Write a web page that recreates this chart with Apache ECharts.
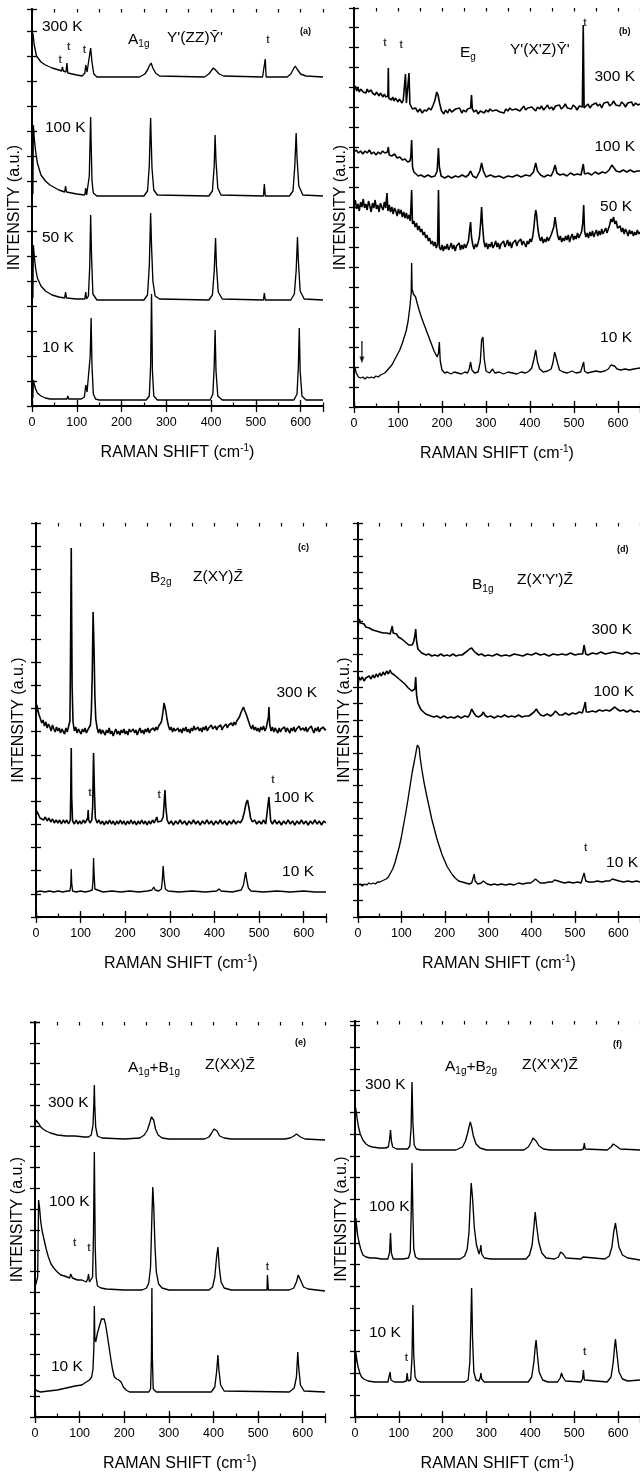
<!DOCTYPE html>
<html><head><meta charset="utf-8">
<script src="https://cdn.jsdelivr.net/npm/echarts/dist/echarts.min.js"></script>
<style>html,body{margin:0;padding:0;background:#fff}#c{width:640px;height:1476px}</style>
</head><body><div id="c"></div><script>
// ---------- DATA (Raman shift cm-1, intensity a.u. with stacking offset) ----------
const xTicks = [0,100,200,300,400,500,600];
const tempLabels = ['300 K','100 K','50 K','10 K'];

const a300=[[2,373],[5,361],[10,350],[20,344],[30,341],[45,338],[60,336],[66,335],[68,339],[70,335],[76,334],[78,343],[80,333],[100,331],[112,330],[118,333],[120,341],[123,334],[127,346],[131,358],[134,344],[138,332],[145,329],[240,329],[252,332],[258,336],[262,340],[266,343],[270,338],[276,333],[285,330],[385,329],[395,332],[400,335],[405,338],[410,336],[418,332],[428,330],[515,329],[519,329],[521,347],[523,329],[570,329],[578,332],[584,337],[588,340],[592,337],[600,332],[612,330],[650,329]];
const a100=[[2,212],[3,281],[5,268],[8,255],[12,243],[20,231],[30,225],[40,221],[60,216],[73,214],[75,220],[77,214],[100,212],[118,211],[120,218],[122,211],[125,213],[128,230],[130,270],[131,289],[132,265],[134,225],[137,213],[145,210],[250,210],[258,215],[262,240],[264,275],[265,288],[266,270],[268,238],[272,216],[280,211],[395,210],[403,215],[407,240],[409,271],[411,245],[415,218],[422,211],[517,210],[519,222],[521,210],[575,210],[583,215],[587,240],[590,273],[592,248],[596,220],[605,211],[650,210]];
const a50=[[2,108],[3,161],[5,150],[8,138],[12,128],[20,120],[30,115],[45,111],[60,109],[73,108],[75,114],[77,108],[100,107],[118,107],[120,114],[122,107],[126,110],[129,140],[131,191],[133,150],[136,112],[145,106],[250,106],[258,111],[262,140],[265,193],[267,160],[270,125],[275,110],[285,107],[395,106],[403,111],[407,135],[410,168],[412,140],[416,114],[425,107],[517,106],[519,113],[521,106],[578,106],[586,112],[590,135],[593,169],[595,145],[599,115],[608,107],[650,106]];
const a10=[[2,8],[3,26],[5,22],[8,17],[12,13],[20,10],[30,8],[40,7],[78,7],[80,10],[82,7],[110,7],[117,9],[120,21],[123,14],[127,16],[130,50],[132,88],[134,40],[137,12],[142,7],[150,6],[255,6],[262,10],[265,40],[267,112],[269,35],[272,10],[280,6],[398,6],[404,12],[407,40],[409,76],[411,35],[415,10],[425,6],[585,6],[592,12],[595,40],[597,78],[599,35],[603,10],[612,6],[650,6]];

const b300=[[0,318],[3,321],[6,316],[9,319],[12,315],[15,318],[18,320],[21,315],[24,317],[27,314],[30,318],[33,315],[36,313],[39,317],[42,314],[45,316],[48,312],[51,315],[54,313],[57,311],[60,314],[63,312],[66,310],[69,313],[72,310],[75,312],[77,311],[78,339],[79,309],[82,311],[85,307],[88,310],[91,306],[94,309],[97,307],[100,305],[103,308],[106,306],[109,304],[112,307],[115,305],[117,333],[119,304],[121,306],[123,303],[125,334],[127,303],[130,301],[133,298],[136,300],[140,299],[145,295],[150,298],[155,294],[160,297],[165,296],[170,299],[175,297],[180,302],[184,307],[188,315],[191,312],[195,303],[199,296],[204,293],[208,297],[213,294],[217,298],[222,295],[226,294],[231,298],[235,296],[240,299],[245,294],[249,297],[254,295],[258,298],[262,296],[265,299],[267,312],[269,298],[273,295],[278,297],[282,293],[287,296],[291,298],[296,294],[300,297],[305,295],[309,298],[314,296],[318,294],[323,297],[327,299],[332,295],[336,297],[341,294],[345,298],[350,296],[354,299],[359,297],[363,295],[368,298],[372,300],[377,296],[381,298],[386,301],[390,297],[395,299],[399,297],[404,300],[408,298],[413,296],[417,300],[422,298],[426,301],[431,297],[435,299],[440,302],[444,298],[449,300],[453,297],[458,301],[462,299],[467,302],[471,298],[476,300],[480,303],[485,299],[489,301],[494,298],[498,302],[503,300],[507,297],[512,301],[516,299],[519,300],[521,382],[523,299],[527,301],[532,303],[536,299],[541,302],[545,300],[550,304],[554,301],[559,303],[563,299],[568,304],[572,302],[577,305],[581,301],[586,303],[590,306],[595,302],[599,304],[604,301],[608,305],[613,303],[617,300],[622,304],[626,302],[631,305],[635,301],[640,304],[645,302],[650,303]];
const b100=[[0,255],[5,257],[10,254],[15,256],[20,253],[25,256],[30,254],[35,257],[40,253],[45,255],[50,252],[55,255],[60,253],[65,256],[70,254],[76,255],[78,260],[80,252],[86,251],[92,253],[98,249],[104,250],[110,247],[116,248],[122,245],[127,246],[129,250],[131,267],[133,240],[136,235],[140,233],[146,231],[152,232],[160,230],[168,232],[176,230],[184,231],[189,236],[192,259],[194,240],[198,231],[206,229],[214,231],[222,229],[230,231],[238,230],[246,232],[254,230],[260,232],[265,236],[270,231],[278,229],[286,236],[290,244],[294,236],[300,230],[310,232],[320,230],[330,231],[340,229],[350,231],[360,230],[370,232],[380,230],[390,232],[400,231],[408,235],[413,244],[417,236],[424,232],[432,230],[440,232],[448,231],[453,236],[457,242],[461,234],[468,232],[476,233],[484,231],[492,234],[500,232],[508,233],[516,232],[521,243],[524,233],[532,234],[540,232],[548,235],[556,233],[564,235],[572,234],[580,237],[586,242],[590,240],[596,236],[604,235],[612,237],[620,235],[628,237],[636,235],[644,236],[650,236]];
const b50=[[0,201],[3,207],[6,198],[9,203],[12,196],[15,205],[18,200],[21,208],[24,199],[27,203],[30,197],[33,206],[36,201],[39,195],[42,204],[45,199],[48,207],[51,198],[54,202],[57,195],[60,204],[63,200],[66,197],[69,205],[72,199],[75,214],[77,196],[80,202],[83,195],[86,200],[89,193],[92,199],[95,196],[98,191],[101,198],[104,193],[107,197],[110,190],[113,195],[116,189],[119,194],[122,188],[125,192],[128,186],[131,217],[133,183],[136,186],[139,180],[142,184],[145,177],[148,181],[151,175],[154,178],[157,172],[160,175],[163,169],[166,172],[169,166],[172,169],[175,163],[178,166],[181,161],[184,165],[187,159],[190,163],[192,217],[194,160],[197,157],[200,162],[203,156],[206,161],[209,158],[212,163],[215,157],[218,160],[221,164],[224,158],[227,162],[230,156],[233,161],[236,159],[239,164],[242,157],[245,162],[248,158],[251,163],[254,159],[257,161],[260,166],[263,178],[265,185],[267,170],[270,162],[273,158],[276,163],[279,160],[282,164],[285,170],[288,185],[290,200],[292,183],[295,166],[298,160],[301,164],[304,158],[307,163],[310,160],[313,165],[316,159],[319,162],[322,166],[325,160],[328,164],[331,158],[334,163],[337,161],[340,166],[343,160],[346,163],[349,167],[352,161],[355,165],[358,159],[361,164],[364,162],[367,167],[370,161],[373,165],[376,163],[379,168],[382,162],[385,166],[388,164],[391,160],[394,166],[397,163],[400,168],[403,165],[406,170],[409,180],[411,190],[413,197],[415,192],[418,178],[421,170],[424,166],[427,170],[430,164],[433,168],[436,165],[439,170],[442,166],[445,169],[448,172],[451,171],[454,180],[457,190],[460,180],[463,171],[466,167],[469,171],[472,165],[475,169],[478,166],[481,171],[484,167],[487,172],[490,165],[493,170],[496,173],[499,167],[502,171],[505,168],[508,174],[511,169],[514,172],[517,175],[520,184],[522,202],[524,176],[527,170],[530,174],[533,169],[536,175],[539,171],[542,176],[545,170],[548,174],[551,177],[554,171],[557,176],[560,172],[563,178],[566,173],[569,176],[572,179],[575,174],[578,178],[581,182],[584,188],[587,185],[590,190],[593,183],[596,186],[599,179],[602,177],[605,181],[608,175],[611,179],[614,173],[617,178],[620,175],[623,171],[626,177],[629,173],[632,176],[635,171],[638,175],[641,172],[644,177],[647,173],[650,175]];
const b10=[[2,40],[5,34],[10,30],[15,29],[20,30],[25,28],[30,30],[35,29],[40,30],[45,29],[50,31],[55,30],[60,32],[65,33],[70,34],[74,35],[80,39],[86,42],[92,47],[98,52],[104,57],[110,64],[115,71],[119,77],[123,86],[127,100],[130,114],[131,144],[132,118],[135,113],[137,114],[140,110],[144,103],[148,97],[153,90],[158,84],[164,77],[170,70],[176,63],[182,56],[189,50],[192,54],[194,65],[196,46],[200,37],[206,34],[212,35],[220,33],[228,35],[236,34],[244,33],[252,35],[258,34],[262,38],[265,45],[268,37],[274,34],[282,35],[287,45],[290,67],[293,70],[296,48],[300,36],[308,34],[315,38],[320,34],[330,35],[340,33],[350,35],[360,34],[370,33],[380,35],[390,34],[398,36],[404,39],[409,48],[413,57],[417,45],[422,38],[430,35],[440,36],[448,38],[452,44],[456,55],[459,57],[462,45],[467,37],[475,35],[485,34],[495,36],[505,34],[515,35],[519,36],[522,45],[524,36],[530,34],[540,35],[550,36],[560,35],[570,36],[578,38],[584,42],[588,44],[592,41],[598,38],[606,37],[616,38],[626,37],[636,38],[650,39]];
const bArrow=[[18,66],[18,47]];

const c300=[[0,200],[2,212],[4,207],[7,202],[10,198],[13,194],[16,197],[19,191],[22,195],[25,189],[28,193],[31,190],[34,186],[37,192],[40,188],[43,185],[46,190],[49,186],[52,189],[55,184],[58,188],[61,186],[64,183],[67,189],[70,185],[73,187],[76,196],[77,240],[79,369],[81,230],[83,195],[86,186],[89,190],[92,184],[95,188],[98,186],[101,183],[104,188],[107,185],[110,189],[113,184],[116,187],[119,186],[122,192],[124,205],[126,240],[128,305],[130,270],[132,220],[134,198],[137,189],[140,184],[143,188],[146,183],[149,187],[152,185],[155,182],[158,187],[161,184],[164,189],[167,183],[170,186],[173,181],[176,185],[179,188],[182,183],[185,186],[188,182],[191,187],[194,184],[197,188],[200,183],[203,186],[206,182],[209,188],[212,185],[215,183],[218,188],[221,184],[224,187],[227,182],[230,186],[233,189],[236,184],[239,187],[242,183],[245,188],[248,185],[251,189],[254,184],[257,187],[260,185],[263,189],[266,186],[269,190],[272,187],[275,191],[278,189],[281,195],[284,203],[287,214],[289,210],[291,206],[294,197],[297,191],[300,187],[303,190],[306,185],[309,189],[312,186],[315,184],[318,189],[321,185],[324,188],[327,184],[330,189],[333,186],[336,190],[339,185],[342,188],[345,184],[348,189],[351,186],[354,191],[357,187],[360,185],[363,190],[366,186],[369,189],[372,185],[375,190],[378,187],[381,191],[384,186],[387,189],[390,187],[393,192],[396,188],[399,186],[402,191],[405,187],[408,190],[411,188],[414,192],[417,187],[420,190],[423,188],[426,193],[429,189],[432,192],[435,190],[438,194],[441,191],[444,195],[447,192],[450,196],[453,194],[456,200],[459,204],[462,207],[465,210],[468,206],[471,203],[474,199],[477,195],[480,191],[483,188],[486,192],[489,187],[492,190],[495,186],[498,189],[501,185],[504,190],[507,187],[510,191],[513,186],[516,189],[519,190],[521,200],[522,210],[524,192],[527,186],[530,190],[533,185],[536,189],[539,187],[542,184],[545,189],[548,185],[551,188],[554,186],[557,190],[560,185],[563,189],[566,187],[569,184],[572,189],[575,186],[578,190],[581,185],[584,188],[587,186],[590,191],[593,187],[596,185],[599,189],[602,186],[605,190],[608,185],[611,188],[614,186],[617,191],[620,187],[623,184],[626,189],[629,186],[632,190],[635,185],[638,188],[641,186],[644,190],[647,187],[650,188]];
const c100=[[0,100],[2,106],[5,103],[9,99],[13,101],[17,97],[21,100],[25,96],[29,99],[33,95],[37,98],[41,94],[45,97],[49,94],[53,97],[57,93],[61,97],[65,94],[69,97],[73,93],[77,97],[78,130],[79,169],[80,120],[82,96],[86,93],[90,97],[94,93],[98,96],[102,93],[106,97],[110,94],[114,96],[116,99],[117,107],[118,97],[121,94],[125,97],[127,110],[129,164],[131,125],[133,99],[137,94],[141,97],[145,93],[149,96],[153,92],[157,96],[161,93],[165,97],[169,93],[173,96],[177,92],[181,96],[185,93],[189,97],[193,93],[197,96],[201,92],[205,96],[209,93],[213,97],[217,93],[221,96],[225,92],[229,96],[233,93],[237,97],[241,93],[245,96],[249,92],[253,96],[257,93],[261,97],[265,94],[269,96],[271,100],[273,95],[277,93],[281,96],[285,100],[287,112],[289,127],[291,110],[294,97],[298,93],[303,96],[308,92],[313,96],[318,93],[323,97],[328,93],[333,96],[338,92],[343,96],[348,93],[353,97],[358,93],[363,96],[368,92],[373,96],[378,93],[383,97],[388,93],[393,96],[398,92],[403,96],[408,93],[413,97],[418,93],[423,96],[428,92],[433,96],[438,93],[443,97],[448,93],[453,96],[458,94],[463,98],[467,105],[471,114],[474,117],[477,110],[481,99],[485,95],[490,97],[495,93],[500,96],[505,93],[510,97],[515,93],[519,95],[522,120],[524,122],[526,96],[530,93],[535,97],[540,93],[545,96],[550,92],[555,96],[560,93],[565,97],[570,93],[575,96],[580,92],[585,96],[590,93],[595,97],[600,93],[605,96],[610,92],[615,96],[620,93],[625,97],[630,93],[635,96],[640,92],[645,96],[650,94]];
const c10=[[0,25],[10,26],[20,25],[30,26],[40,25],[50,26],[60,25],[70,26],[76,26],[78,32],[79,48],[80,34],[82,26],[90,25],[100,26],[110,25],[120,26],[126,27],[128,38],[129,59],[130,45],[132,28],[136,26],[150,25],[170,26],[190,25],[210,26],[230,25],[250,26],[260,27],[264,30],[267,27],[275,26],[281,28],[283,36],[285,51],[287,38],[290,28],[296,26],[320,25],[350,26],[380,25],[405,26],[410,28],[415,26],[440,25],[460,27],[465,32],[468,40],[470,45],[472,38],[476,29],[482,26],[510,25],[540,26],[570,25],[600,26],[625,25],[650,25]];

const d300=[[0,290],[3,298],[6,294],[10,292],[14,293],[18,290],[22,291],[26,289],[30,290],[34,287],[38,289],[42,286],[46,288],[50,285],[54,287],[58,284],[62,286],[66,284],[70,285],[74,283],[77,285],[79,291],[81,284],[85,282],[89,283],[93,280],[97,281],[101,278],[105,278],[109,275],[113,274],[117,272],[121,270],[125,272],[128,275],[131,281],[133,288],[135,276],[138,268],[142,266],[147,264],[152,263],[157,262],[163,263],[170,261],[177,262],[184,261],[191,263],[198,261],[205,262],[212,261],[219,263],[226,261],[233,262],[240,262],[246,264],[252,266],[257,268],[262,269],[267,266],[272,264],[278,262],[285,263],[292,261],[300,262],[310,261],[320,263],[330,261],[340,262],[350,261],[360,263],[370,262],[380,261],[390,263],[400,262],[410,264],[420,262],[430,263],[440,261],[450,263],[460,262],[470,263],[480,262],[490,264],[500,262],[510,263],[518,263],[521,272],[523,274],[525,263],[530,262],[540,264],[550,263],[560,265],[570,263],[580,264],[590,265],[600,264],[610,263],[620,265],[630,263],[640,264],[650,263]];
const d100=[[0,230],[2,240],[6,237],[10,240],[14,236],[18,239],[22,237],[26,241],[30,238],[34,242],[38,239],[42,243],[46,240],[50,244],[54,241],[58,245],[62,242],[66,246],[70,243],[74,247],[77,244],[80,246],[84,242],[88,243],[92,239],[96,240],[100,236],[104,237],[108,233],[112,232],[116,229],[120,229],[124,226],[128,225],[131,228],[133,240],[135,222],[138,214],[142,210],[146,207],[151,205],[156,203],[162,202],[168,201],[175,200],[182,201],[190,199],[198,201],[206,199],[214,200],[222,199],[230,201],[238,199],[246,201],[254,200],[258,203],[262,208],[264,210],[267,204],[272,201],[278,200],[285,202],[289,205],[292,202],[298,200],[306,201],[314,199],[322,201],[330,200],[338,202],[346,200],[354,201],[362,200],[370,202],[378,200],[386,201],[394,201],[400,203],[406,205],[411,208],[415,205],[421,202],[428,201],[436,203],[444,201],[450,203],[455,206],[459,205],[464,202],[471,202],[478,204],[486,202],[494,204],[502,203],[510,205],[517,204],[521,210],[524,215],[526,205],[532,205],[540,206],[548,205],[556,207],[564,206],[572,207],[580,206],[586,208],[592,210],[597,208],[604,206],[612,207],[620,205],[628,207],[636,205],[644,206],[650,205]];
const d10=[[0,32],[5,33],[10,31],[15,33],[20,32],[25,34],[30,33],[35,34],[40,33],[45,35],[50,35],[55,36],[60,37],[65,38],[70,40],[75,44],[80,48],[85,54],[90,62],[95,70],[100,80],[105,92],[110,104],[115,117],[120,131],[125,145],[130,156],[133,163],[135,168],[137,172],[139,170],[141,169],[143,160],[147,148],[152,135],[158,122],[164,110],[170,98],[176,88],[182,78],[188,70],[194,62],[200,56],[206,50],[212,46],[218,42],[224,39],[232,36],[240,35],[248,34],[256,33],[262,34],[266,40],[268,43],[270,36],[276,33],[284,34],[289,36],[292,35],[298,33],[306,32],[314,33],[322,32],[330,33],[340,32],[350,33],[360,32],[370,34],[380,33],[390,34],[398,34],[404,36],[409,38],[413,36],[420,34],[430,34],[440,35],[448,35],[453,37],[457,39],[461,36],[468,35],[476,34],[486,35],[496,34],[506,35],[514,34],[518,36],[521,44],[523,45],[525,36],[532,35],[542,35],[552,36],[562,35],[572,36],[580,36],[586,38],[590,39],[594,37],[602,36],[612,35],[622,36],[632,35],[642,36],[650,35]];

const e300=[[0,290],[2,297],[4,299],[6,296],[9,293],[13,290],[18,288],[25,286],[35,284],[50,282],[70,281],[90,281],[110,280],[120,280],[126,282],[130,292],[132,315],[133,332],[134,312],[136,290],[140,281],[150,279],[200,278],[235,279],[245,282],[252,287],[257,294],[261,300],[263,301],[266,297],[270,288],[276,282],[285,279],[300,278],[380,278],[390,280],[396,284],[401,288],[404,289],[408,286],[414,281],[424,279],[440,278],[560,278],[572,279],[580,281],[586,283],[590,283],[595,280],[605,278],[650,277]];
const e100=[[0,130],[6,140],[8,217],[10,210],[13,195],[16,186],[20,178],[25,168],[30,160],[36,153],[42,149],[50,145],[58,142],[66,141],[72,140],[78,139],[80,143],[82,145],[84,139],[95,137],[105,137],[115,135],[118,138],[120,143],[122,135],[126,134],[129,140],[131,180],[133,265],[135,170],[137,140],[140,131],[148,129],[160,128],[200,127],[240,127],[250,129],[255,134],[259,150],[262,200],[264,230],[266,212],[269,170],[272,145],[277,133],[285,129],[300,127],[390,127],[398,130],[403,140],[407,160],[410,170],[413,150],[417,135],[424,129],[440,127],[515,127],[520,127],[521,142],[523,127],[570,127],[580,129],[586,135],[590,142],[593,142],[596,136],[602,130],[612,128],[650,126]];
const e10=[[0,28],[5,26],[13,25],[30,26],[50,27],[70,29],[90,31],[105,32],[115,35],[122,37],[127,40],[130,48],[132,70],[133,111],[134,80],[136,75],[140,84],[145,92],[149,98],[152,100],[155,98],[158,93],[162,82],[166,70],[170,58],[174,47],[178,40],[183,38],[188,37],[193,35],[198,30],[204,27],[212,25],[240,25],[255,25],[259,28],[261,60],[262,129],[263,60],[265,28],[272,25],[395,25],[403,30],[407,45],[410,62],[412,48],[416,32],[424,26],[570,25],[581,29],[586,40],[589,65],[591,50],[595,32],[603,26],[650,25]];

const f300=[[0,300],[1,310],[3,305],[5,298],[8,290],[12,283],[18,277],[25,273],[32,271],[40,270],[55,269],[70,269],[76,270],[79,278],[81,287],[83,276],[86,270],[95,268],[110,268],[120,268],[125,271],[128,290],[130,335],[132,295],[135,272],[140,268],[150,267],[230,267],[245,270],[252,276],[257,284],[261,292],[263,295],[266,290],[270,281],[276,273],[285,269],[300,267],[385,267],[395,270],[402,275],[406,279],[409,280],[413,276],[420,271],[430,268],[445,267],[515,267],[521,268],[523,274],[525,268],[575,267],[584,270],[589,273],[592,274],[596,271],[605,268],[650,267]];
const f100=[[0,165],[2,199],[4,190],[6,182],[9,175],[13,168],[18,162],[25,160],[35,159],[47,159],[60,158],[75,158],[79,165],[81,184],[83,164],[87,158],[110,158],[122,159],[126,165],[128,200],[130,254],[132,205],[134,168],[138,160],[145,158],[240,158],[250,161],[256,168],[260,185],[263,215],[265,234],[268,220],[272,190],[277,172],[283,163],[286,168],[287,172],[289,163],[295,159],[310,158],[390,158],[398,162],[404,172],[408,190],[411,205],[414,192],[419,175],[426,164],[436,159],[455,158],[464,160],[469,165],[472,167],[475,163],[481,159],[515,158],[520,160],[522,158],[570,158],[580,161],[586,170],[590,185],[594,194],[597,185],[602,170],[610,162],[622,159],[650,157]];
const f10=[[0,40],[2,65],[4,58],[7,50],[11,44],[15,40],[20,38],[30,36],[45,35],[60,35],[75,35],[78,37],[80,45],[82,37],[90,35],[110,35],[117,36],[119,44],[121,36],[127,37],[130,60],[132,112],[134,62],[137,40],[142,36],[150,35],[250,35],[258,37],[262,55],[264,90],[266,129],[268,80],[271,45],[276,37],[283,36],[286,40],[287,44],[289,38],[295,35],[395,35],[403,40],[408,55],[411,70],[413,77],[416,62],[420,45],[428,37],[440,35],[462,35],[468,39],[471,44],[474,40],[480,36],[515,35],[519,38],[521,47],[523,37],[575,35],[584,40],[589,55],[592,70],[594,78],[597,65],[602,45],[610,38],[622,36],[650,37]];

// plasma-line "t" markers [shift, intensity]
const tA=[[63,346],[82,359],[117,356],[527,366]];
const tB=[[70,364],[107,362],[525,384]];
const tC=[[121,124],[276,122],[531,137]];
const tD=[[525,69]];
const tE=[[89,174],[121,169],[521,150]];
const tF=[[117,59],[524,65]];

// ---------- LAYOUT ----------
const FONT='"Liberation Sans", Arial, Helvetica, sans-serif';
const P=[
 {left:32,top:9,width:291,height:397,sp:25,yGap:9,spectra:[a300,a100,a50,a10],noisy:[0,0,0,0],t:tA},
 {left:354,top:8,width:290,height:399,sp:20,yGap:5,spectra:[b300,b100,b50,b10],noisy:[1,1,1,0],t:tB},
 {left:36,top:523,width:290,height:394,sp:394/17,yGap:9,spectra:[c300,c100,c10],noisy:[1,1,0],t:tC},
 {left:358,top:523,width:289,height:394,sp:394/24,yGap:5,spectra:[d300,d100,d10],noisy:[1,1,0],t:tD},
 {left:35,top:1022,width:290,height:395,sp:395/19,yGap:9,spectra:[e300,e100,e10],noisy:[0,0,0],t:tE},
 {left:355,top:1021,width:290,height:396,sp:21.76,yGap:5,spectra:[f300,f100,f10],noisy:[0,0,0],t:tF}
];
const TXT=[
 {x:42,y:27,t:tempLabels[0]},{x:45,y:128,t:tempLabels[1]},{x:42,y:238,t:tempLabels[2]},{x:42,y:348,t:tempLabels[3]},
 {x:128,y:40,t:'A{s|1g}'},{x:167,y:38,t:"Y'(ZZ)\u0232'"},{x:300,y:32,t:'(a)',small:true},
 {x:635,y:77,t:tempLabels[0],r:true},{x:635,y:147,t:tempLabels[1],r:true},{x:632,y:207,t:tempLabels[2],r:true},{x:632,y:338,t:tempLabels[3],r:true},
 {x:460,y:53,t:'E{s|g}'},{x:510,y:50,t:"Y'(X'Z)\u0232'"},{x:619,y:32,t:'(b)',small:true},
 {x:317,y:693,t:tempLabels[0],r:true},{x:314,y:798,t:tempLabels[1],r:true},{x:314,y:872,t:tempLabels[3],r:true},
 {x:150,y:578,t:'B{s|2g}'},{x:193,y:577,t:'Z(XY)Z\u0304'},{x:298,y:548,t:'(c)',small:true},
 {x:632,y:630,t:tempLabels[0],r:true},{x:634,y:692,t:tempLabels[1],r:true},{x:638,y:863,t:tempLabels[3],r:true},
 {x:472,y:585,t:'B{s|1g}'},{x:517,y:580,t:"Z(X'Y')Z\u0304"},{x:617,y:550,t:'(d)',small:true},
 {x:48,y:1103,t:tempLabels[0]},{x:49,y:1202,t:tempLabels[1]},{x:51,y:1367,t:tempLabels[3]},
 {x:128,y:1068,t:'A{s|1g}+B{s|1g}'},{x:205,y:1065,t:'Z(XX)Z\u0304'},{x:295,y:1043,t:'(e)',small:true},
 {x:365,y:1085,t:tempLabels[0]},{x:369,y:1207,t:tempLabels[1]},{x:369,y:1333,t:tempLabels[3]},
 {x:445,y:1067,t:'A{s|1g}+B{s|2g}'},{x:522,y:1065,t:"Z(X'X')Z\u0304"},{x:613,y:1045,t:'(f)',small:true}
];

const grids=[],xAxes=[],yAxes=[],series=[],graphic=[];
const lineCol='#000';
P.forEach((p,i)=>{
  grids.push({left:p.left,top:p.top,width:p.width,height:p.height,show:false});
  const xb={type:'value',gridIndex:i,min:0,max:650,interval:100,
    axisLine:{lineStyle:{color:lineCol,width:1.8}},
    axisTick:{inside:true,length:6,lineStyle:{color:lineCol,width:1.3}},
    splitLine:{show:false}};
  xAxes.push(Object.assign({},xb,{position:'bottom',
    axisLabel:{color:'#000',fontSize:12.5,fontFamily:FONT,margin:10,showMaxLabel:false,
      formatter:v=>xTicks.includes(v)?String(v):''},
    name:'RAMAN SHIFT (cm{sup|-1})',nameLocation:'middle',nameGap:37,
    nameTextStyle:{color:'#000',fontSize:16,fontFamily:FONT,
      rich:{sup:{fontSize:10,fontFamily:FONT,color:'#000',padding:[0,0,9,0]}}}}));
  xAxes.push(Object.assign({},xb,{position:'top',axisLabel:{show:false}}));
  const yb={type:'value',gridIndex:i,min:0,max:p.height,interval:p.sp,
    axisLine:{lineStyle:{color:lineCol,width:1.8}},
    axisTick:{inside:true,length:5,lineStyle:{color:lineCol,width:1.3}},
    axisLabel:{show:false},splitLine:{show:false}};
  yAxes.push(Object.assign({},yb,{position:'left',name:'INTENSITY (a.u.)',nameLocation:'middle',
    nameGap:p.yGap,nameRotate:90,nameTextStyle:{color:'#000',fontSize:16,fontFamily:FONT}}));
  yAxes.push(Object.assign({},yb,{position:'right'}));
  p.spectra.forEach((s,k)=>series.push({type:'line',xAxisIndex:2*i,yAxisIndex:2*i,data:s,
    symbol:'none',showSymbol:false,silent:true,animation:false,clip:true,
    lineStyle:{color:'#000',width:p.noisy[k]?1.6:1.35}}));
  series.push({type:'scatter',xAxisIndex:2*i,yAxisIndex:2*i,data:p.t,symbolSize:0,silent:true,animation:false,
    label:{show:true,position:'inside',formatter:'t',color:'#000',fontSize:10,fontWeight:'bold',fontFamily:FONT}});
});
P.forEach((p,i)=>{
  grids.push({left:p.left,top:p.top,width:p.width,height:p.height,show:false});
  const xm={type:'value',gridIndex:6+i,min:0,max:650,interval:50,axisLine:{show:false},
    axisTick:{inside:true,length:3.5,lineStyle:{color:lineCol,width:1.2}},axisLabel:{show:false},splitLine:{show:false}};
  xAxes.push(Object.assign({},xm,{position:'bottom'}));
  xAxes.push(Object.assign({},xm,{position:'top'}));
  yAxes.push({type:'value',gridIndex:6+i,min:0,max:p.height,show:false});
});
series.push({type:'line',xAxisIndex:2,yAxisIndex:2,data:bArrow,symbol:'none',silent:true,animation:false,lineStyle:{color:'#000',width:1.2}});
series.push({type:'scatter',xAxisIndex:2,yAxisIndex:2,data:[bArrow[1]],symbol:'triangle',symbolRotate:180,symbolSize:[5,7],itemStyle:{color:'#000'},silent:true,animation:false});

TXT.forEach(o=>{
  graphic.push({type:'text',x:o.x,y:o.y,silent:true,style:{
    text:o.t,fill:'#000',fontFamily:FONT,fontSize:o.small?9:15.5,fontWeight:o.small?'bold':'normal',
    align:o.r?'right':'left',verticalAlign:'middle',
    rich:{s:{fontSize:10,fontFamily:FONT,fill:'#000',padding:[9,0,0,0]}}}});
});

const chart=echarts.init(document.getElementById('c'),null,{renderer:'canvas'});
chart.setOption({animation:false,backgroundColor:'#fff',grid:grids,xAxis:xAxes,yAxis:yAxes,series:series,graphic:graphic});
</script></body></html>
